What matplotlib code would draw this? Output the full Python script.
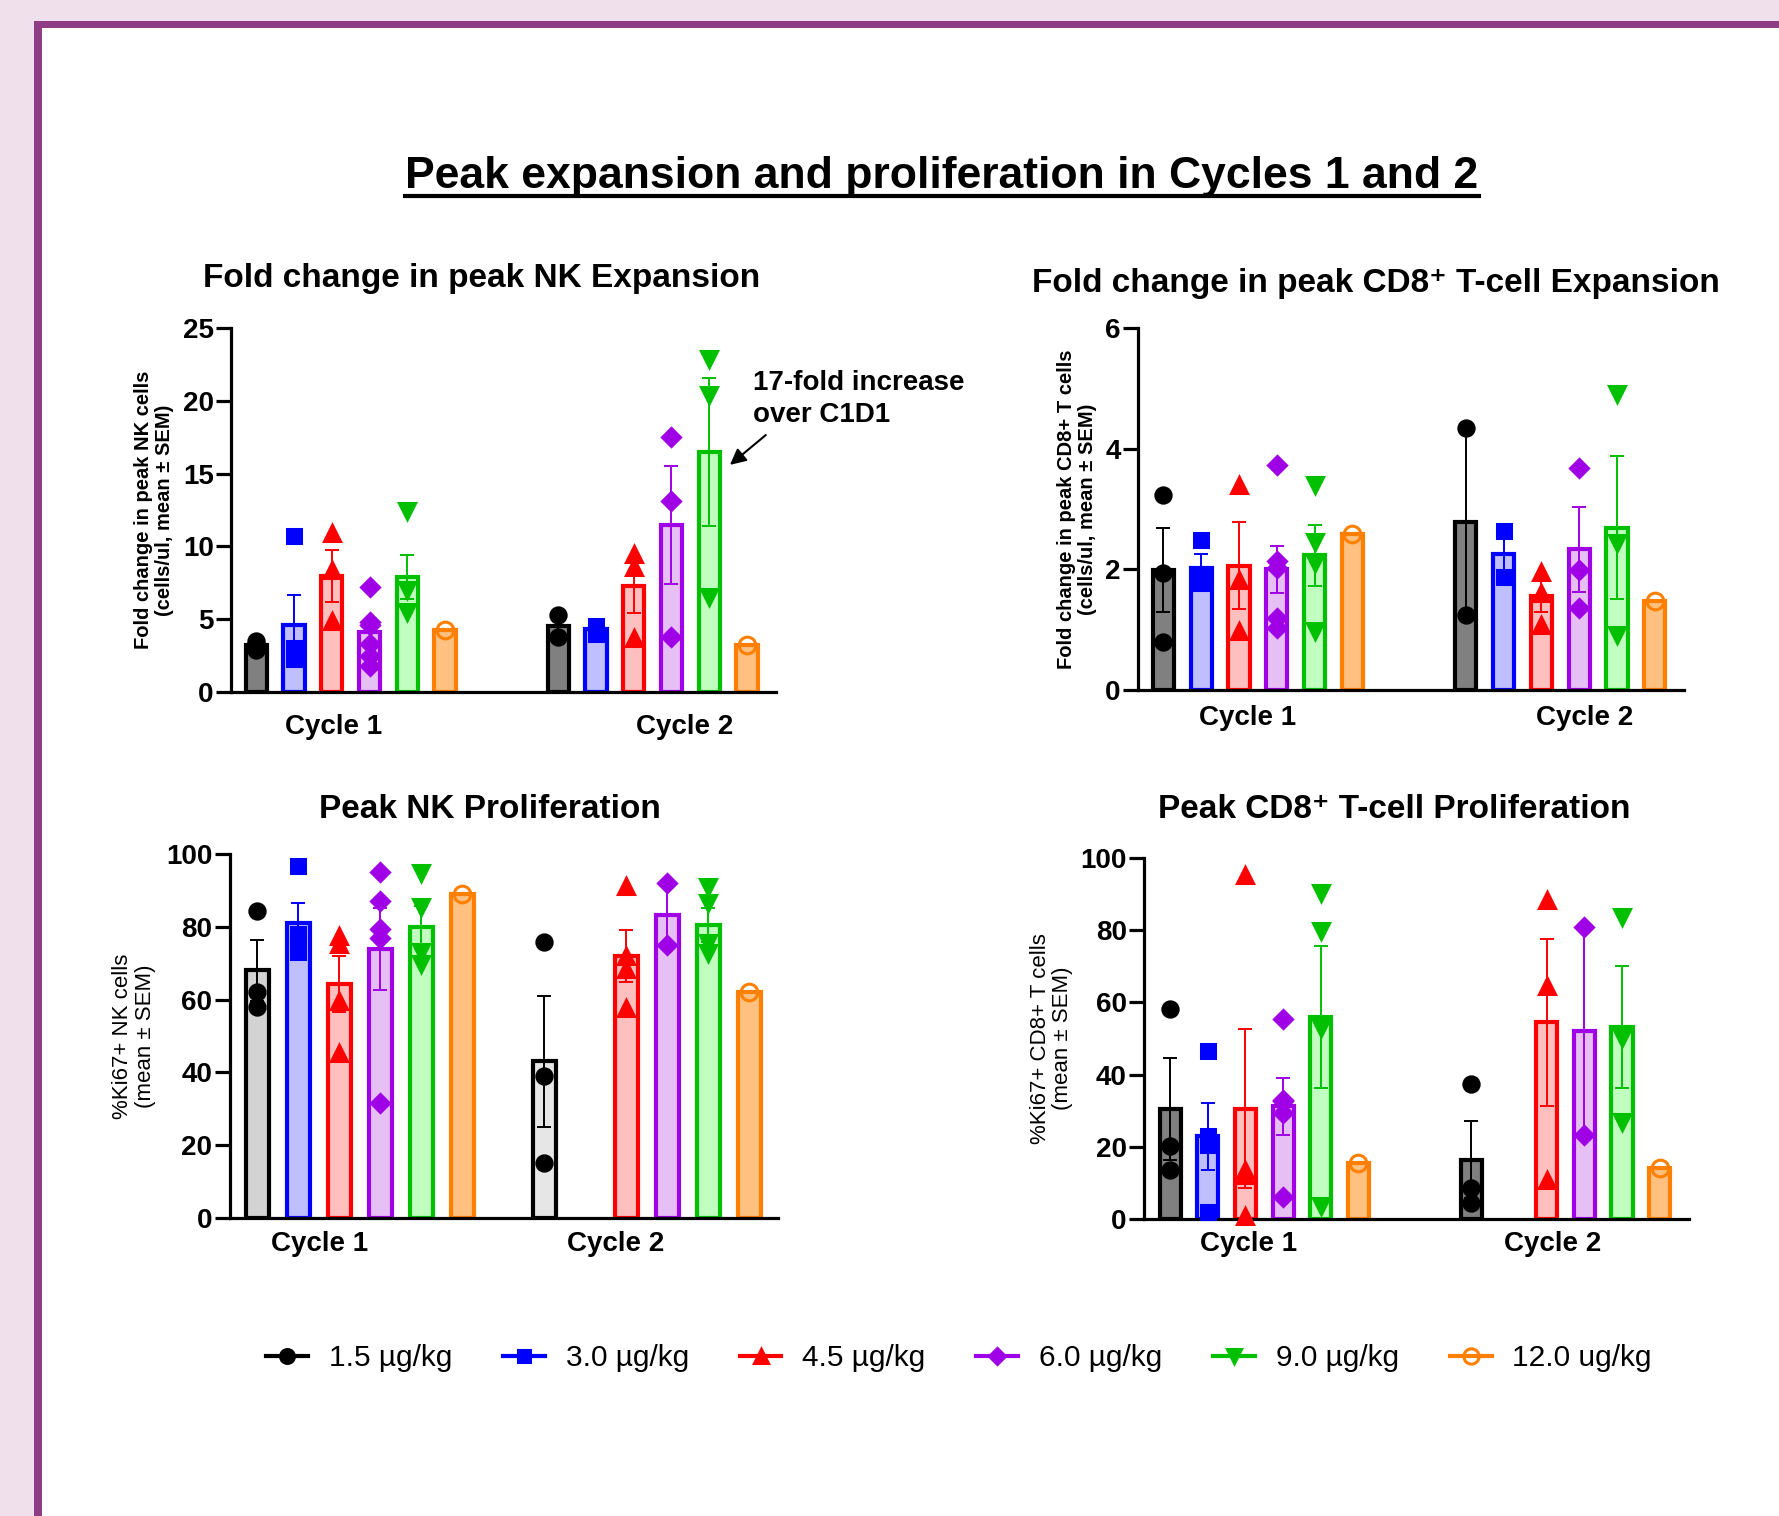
import matplotlib
matplotlib.use('Agg')
import matplotlib.pyplot as plt
from matplotlib.lines import Line2D
from matplotlib.patches import Rectangle
import numpy as np

plt.rcParams['font.family'] = ['Liberation Sans', 'DejaVu Sans']

nan = np.nan

doses = ['1.5 µg/kg', '3.0 µg/kg', '4.5 µg/kg', '6.0 µg/kg', '9.0 µg/kg', '12.0 ug/kg']
cycles = ['Cycle 1', 'Cycle 2']

# Fold change in peak NK expansion
nk_exp_c1_mean = [3.2, 4.6, 7.95, 4.1, 7.9, 4.25]
nk_exp_c1_sem = [0.15, 2.05, 1.8, 0.8, 1.5, nan]
nk_exp_c1_pts = [[2.9, 3.3, 3.5], [10.7, 3.0, 2.6, 2.3], [10.9, 8.4, 4.9],
                 [7.2, 4.8, 4.6, 3.3, 2.5, 1.8], [12.4, 7.0, 5.5], [4.25]]
nk_exp_c2_mean = [4.55, 4.3, 7.25, 11.45, 16.5, 3.2]
nk_exp_c2_sem = [0.75, 0.25, 1.85, 4.05, 5.1, nan]
nk_exp_c2_pts = [[5.3, 3.8], [4.5, 4.0], [9.5, 8.6, 3.7], [17.5, 13.1, 3.8],
                 [22.9, 20.4, 6.5], [3.2]]

# Fold change in peak CD8+ T-cell expansion
cd8_exp_c1_mean = [1.99, 2.03, 2.06, 2.0, 2.23, 2.59]
cd8_exp_c1_sem = [0.7, 0.23, 0.72, 0.39, 0.5, nan]
cd8_exp_c1_pts = [[3.24, 1.94, 0.8], [2.49, 1.85, 1.78], [3.39, 1.83, 0.97],
                  [3.73, 2.13, 2.02, 1.19, 1.02], [3.4, 2.45, 2.1, 0.97], [2.59]]
cd8_exp_c2_mean = [2.79, 2.26, 1.55, 2.33, 2.69, 1.48]
cd8_exp_c2_sem = [1.55, 0.38, 0.25, 0.7, 1.19, nan]
cd8_exp_c2_pts = [[4.34, 1.24], [2.64, 1.88], [1.96, 1.6, 1.08], [3.68, 1.99, 1.36],
                  [4.9, 2.43, 0.91], [1.48]]

# Peak NK proliferation (%Ki67+)
nk_ki_c1_mean = [68.0, 81.0, 64.3, 73.9, 80.0, 89.0]
nk_ki_c1_sem = [8.5, 5.6, 7.8, 11.2, 5.8, nan]
nk_ki_c1_pts = [[84.4, 62.0, 58.1], [96.8, 78.0, 76.0, 73.0], [77.5, 75.3, 59.5, 45.3],
                [95.0, 87.1, 79.3, 76.9, 31.6], [94.7, 85.4, 73.0, 69.8], [89.0]]
nk_ki_c2_mean = [43.0, nan, 72.0, 83.3, 80.5, 62.0]
nk_ki_c2_sem = [18.0, nan, 7.1, 8.45, 4.8, nan]
nk_ki_c2_pts = [[75.7, 39.1, 15.1], [], [91.2, 72.0, 68.3, 57.8], [91.9, 75.0],
                [91.0, 86.6, 75.5, 72.9], [62.0]]

# Peak CD8+ T-cell proliferation (%Ki67+)
cd8_ki_c1_mean = [30.5, 22.9, 30.5, 31.2, 56.0, 15.5]
cd8_ki_c1_sem = [14.1, 9.2, 22.0, 7.9, 19.7, nan]
cd8_ki_c1_pts = [[58.3, 20.1, 13.5], [46.4, 23.0, 20.6, 2.0], [95.2, 13.7, 12.3, 0.7],
                 [55.4, 33.1, 32.6, 29.4, 6.0], [90.3, 79.7, 52.9, 3.5], [15.5]]
cd8_ki_c2_mean = [16.4, nan, 54.5, 52.0, 53.1, 14.1]
cd8_ki_c2_sem = [10.7, nan, 23.2, 28.7, 16.9, nan]
cd8_ki_c2_pts = [[37.5, 8.5, 4.5], [], [88.5, 64.5, 10.9], [80.8, 23.4],
                 [83.7, 50.1, 26.8], [14.1]]

edge_colors = ['#000000', '#0000FF', '#FF0000', '#A000E6', '#00C000', '#FF8000']
fill_colors = ['#808080', '#BFBFFF', '#FFBFBF', '#E6C0F5', '#C0FFC0', '#FFC080']
markers = ['o', 's', '^', 'D', 'v', 'o']
msizes = [11, 10, 11, 9, 11, 12]

W, H = 1779, 1516
fig = plt.figure(figsize=(W / 100, H / 100), dpi=100)
fig.patch.set_facecolor('#EFE0EB')
fig.add_artist(Rectangle((34 / W, 0), 1, 1 - 21 / H, transform=fig.transFigure,
                         facecolor='#8E3D86', edgecolor='none', zorder=-10))
fig.add_artist(Rectangle((42 / W, 0), 1, 1 - 28 / H, transform=fig.transFigure,
                         facecolor='white', edgecolor='none', zorder=-9))


def px_axes(left, top, right, bottom):
    ax = fig.add_axes([left / W, 1 - bottom / H, (right - left) / W, (bottom - top) / H])
    ax.set_facecolor('none')
    return ax


def draw_panel(ax, groups, c2_start, black_fills):
    starts = [0, c2_start]
    for cyc, (means, sems, pts) in enumerate(groups):
        for i in range(6):
            if np.isnan(means[i]):
                continue
            x = starts[cyc] + i
            fc = black_fills[cyc] if i == 0 else fill_colors[i]
            ax.bar(x, means[i], width=0.56, color=fc, edgecolor=edge_colors[i],
                   linewidth=3, zorder=2)
            if not np.isnan(sems[i]):
                ax.errorbar(x, means[i], yerr=sems[i], fmt='none', ecolor=edge_colors[i],
                            elinewidth=1.4, capsize=4.7, capthick=1.4, zorder=3)
            mfc = 'none' if i == 5 else edge_colors[i]
            ax.plot([x] * len(pts[i]), pts[i], linestyle='none', marker=markers[i],
                    ms=msizes[i], mfc=mfc, mec=edge_colors[i], mew=2.2, zorder=4,
                    clip_on=False)


def style_axes(ax, xlim, ymax, yticks, label_pos, xpad, ylabel, ylabel_bold, ylabel_x):
    ax.set_xlim(*xlim)
    ax.set_ylim(0, ymax)
    for s in ['top', 'right']:
        ax.spines[s].set_visible(False)
    for s in ['left', 'bottom']:
        ax.spines[s].set_linewidth(2.3)
    ax.set_yticks(yticks)
    ax.set_yticklabels([str(t) for t in yticks], fontsize=20, fontweight='bold')
    ax.tick_params(axis='y', length=10.5, width=2.3, pad=2)
    ax.set_xticks(label_pos)
    ax.set_xticklabels(cycles, fontsize=20, fontweight='bold')
    ax.tick_params(axis='x', length=0, pad=xpad)
    if ylabel_bold:
        ax.set_ylabel(ylabel, fontsize=14.5, fontweight='bold', linespacing=1.15)
    else:
        ax.set_ylabel(ylabel, fontsize=16, linespacing=1.1)
    ax.yaxis.set_label_coords(ylabel_x, 0.5)


gray_dark = ['#808080', '#808080']

ax1 = px_axes(231, 328, 776, 692)
draw_panel(ax1, [(nk_exp_c1_mean, nk_exp_c1_sem, nk_exp_c1_pts),
                 (nk_exp_c2_mean, nk_exp_c2_sem, nk_exp_c2_pts)], 8, gray_dark)
style_axes(ax1, (-0.67, 13.77), 25, [0, 5, 10, 15, 20, 25], [2.05, 11.36], 16,
           'Fold change in peak NK cells\n(cells/ul, mean ± SEM)', True, -0.105)
ax1.text(13.16, 20.1, '17-fold increase\nover C1D1', ha='left', va='center',
         fontsize=20, fontweight='bold', linespacing=1.3, clip_on=False)
ax1.annotate('', xy=(12.55, 15.6), xytext=(13.5, 17.65), annotation_clip=False,
             arrowprops=dict(arrowstyle='-|>', color='black', lw=1.5, mutation_scale=24,
                             shrinkA=0, shrinkB=0))

ax2 = px_axes(1138, 328, 1684, 690)
draw_panel(ax2, [(cd8_exp_c1_mean, cd8_exp_c1_sem, cd8_exp_c1_pts),
                 (cd8_exp_c2_mean, cd8_exp_c2_sem, cd8_exp_c2_pts)], 8, gray_dark)
style_axes(ax2, (-0.67, 13.77), 6, [0, 2, 4, 6], [2.23, 11.15], 11,
           'Fold change in peak CD8+ T cells\n(cells/ul, mean ± SEM)', True, -0.075)

ax3 = px_axes(229.5, 854, 778, 1218)
draw_panel(ax3, [(nk_ki_c1_mean, nk_ki_c1_sem, nk_ki_c1_pts),
                 (nk_ki_c2_mean, nk_ki_c2_sem, nk_ki_c2_pts)], 7, ['#D3D3D3', '#E6E6E6'])
style_axes(ax3, (-0.675, 12.7), 100, [0, 20, 40, 60, 80, 100], [1.51, 8.73], 9.5,
           '%Ki67+ NK cells\n(mean ± SEM)', False, -0.134)

ax4 = px_axes(1144, 858, 1689, 1219)
draw_panel(ax4, [(cd8_ki_c1_mean, cd8_ki_c1_sem, cd8_ki_c1_pts),
                 (cd8_ki_c2_mean, cd8_ki_c2_sem, cd8_ki_c2_pts)], 8, gray_dark)
style_axes(ax4, (-0.695, 13.78), 100, [0, 20, 40, 60, 80, 100], [2.07, 10.15], 8.5,
           '%Ki67+ CD8+ T cells\n(mean ± SEM)', False, -0.13)

# panel titles
fig.text(482 / W, 1 - 287 / H, 'Fold change in peak NK Expansion', ha='center',
         va='baseline', fontsize=24, fontweight='bold')
fig.text(1376 / W, 1 - 292 / H, 'Fold change in peak CD8\u207a T-cell Expansion',
         ha='center', va='baseline', fontsize=24, fontweight='bold')
fig.text(489.6 / W, 1 - 818 / H, 'Peak NK Proliferation', ha='center', va='baseline',
         fontsize=24, fontweight='bold')
fig.text(1394 / W, 1 - 818 / H, 'Peak CD8\u207a T-cell Proliferation', ha='center',
         va='baseline', fontsize=24, fontweight='bold')

# main title with underline
title = fig.text(942 / W, 1 - 188 / H, 'Peak expansion and proliferation in Cycles 1 and 2',
                 ha='center', va='baseline', fontsize=32, fontweight='bold')
fig.canvas.draw()
bb = title.get_window_extent().transformed(fig.transFigure.inverted())
fig.add_artist(Line2D([bb.x0, bb.x1], [1 - 196 / H] * 2, color='black', lw=3,
                      transform=fig.transFigure))

# legend
handles = []
for i in range(6):
    mfc = 'none' if i == 5 else edge_colors[i]
    handles.append(Line2D([], [], color=edge_colors[i], lw=3, marker=markers[i],
                          ms=msizes[i] - 1, mfc=mfc, mec=edge_colors[i], mew=2.2))
fig.legend(handles, doses, loc='center', bbox_to_anchor=(959 / W, 1 - 1358 / H), ncol=6,
           frameon=False, fontsize=21.5, handlelength=1.4, handletextpad=0.7,
           columnspacing=1.7)

fig.savefig('out.png', dpi=100, facecolor=fig.get_facecolor())
